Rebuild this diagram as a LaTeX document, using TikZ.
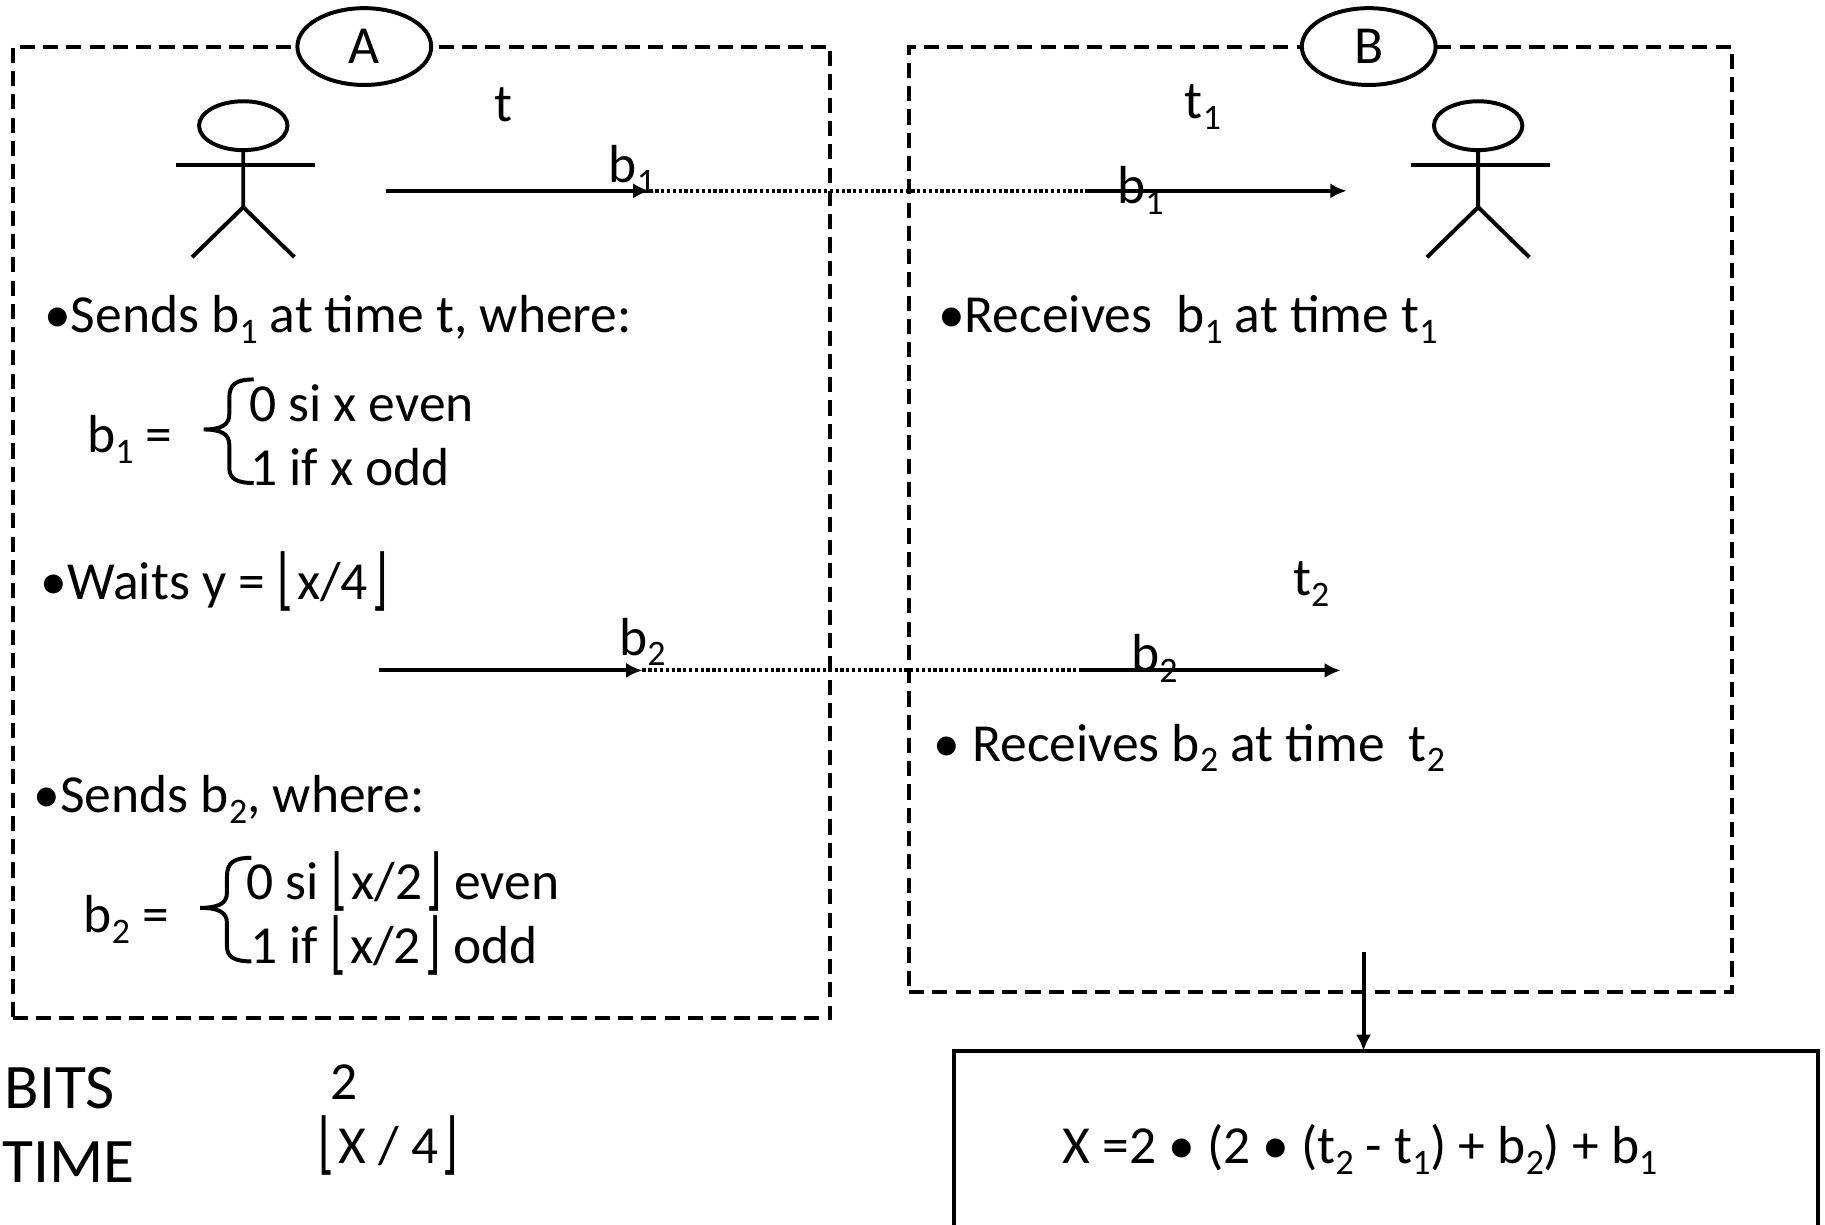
\documentclass[tikz,border=0pt]{standalone}
\usetikzlibrary{shapes.geometric,arrows.meta}
\usepackage{fontspec}
\setmainfont{Carlito}
\newfontfamily\symf{DejaVu Sans}
\newcommand\sbs[1]{\raisebox{-.2em}{\scalebox{.67}{#1}}}
\newcommand\lfl{{\raisebox{-.05em}{\scalebox{.8}[1.25]{\symf\char"230A}}\kern.06em}}
\newcommand\rfl{{\kern.06em\raisebox{-.05em}{\scalebox{.8}[1.25]{\symf\char"230B}}}}
\begin{document}
\begin{tikzpicture}[x=1pt,y=-1pt,
  txt/.style={anchor=base west,inner sep=0pt,outer sep=0pt,font=\fontsize{46}{52}\selectfont},
  big/.style={anchor=base west,inner sep=0pt,outer sep=0pt,font=\fontsize{54.5}{60}\selectfont},
  dashbox/.style={draw=black,line width=3.5pt,outer sep=0pt,dash pattern=on 13pt off 7pt},
  party/.style={draw=black,fill=white,line width=3.4pt,outer sep=0pt,ellipse,minimum width=115pt,minimum height=66pt,inner sep=0pt,font=\fontsize{46}{52}\selectfont},
  headshape/.style={draw=black,line width=3.4pt,outer sep=0pt,ellipse,minimum width=76pt,minimum height=42pt,inner sep=0pt},
  person/.style={line width=3.4pt},
  msg/.style={line width=3.4pt,-{Latex[length=14pt,width=13pt]}},
  wire/.style={line width=3.4pt,dash pattern=on 2.8pt off 2.2pt}
]
\useasboundingbox (0,0) rectangle (1568,1052.4);
\clip (0,0) rectangle (1568,1052.4);
% boxes
\node[dashbox,rectangle,minimum width=702pt,minimum height=835pt,anchor=north west,inner sep=0pt] (boxA) at (11,40) {};
\node[dashbox,rectangle,minimum width=707pt,minimum height=812pt,anchor=north west,inner sep=0pt] (boxB) at (781,40) {};
\node[party] (A) at (313,40) {\raisebox{-3pt}{A}};
\node[party] (B) at (1176,40) {\raisebox{-3pt}{B}};
% stick figures
\node[headshape] (headA) at (209,108) {};
\coordinate (hipA) at (209,178);
\draw[person] (headA.south) -- (hipA) -- (165,221);
\draw[person] (hipA) -- (253,221);
\draw[person] (151,142) -- (271,142);
\node[headshape] (headB) at (1270,108) {};
\coordinate (hipB) at (1270,178);
\draw[person] (headB.south) -- (hipB) -- (1226,221);
\draw[person] (hipB) -- (1314,221);
\draw[person] (1212,142) -- (1332,142);
% messages
\coordinate (a1s) at (332,164); \coordinate (a1e) at (558,164);
\coordinate (b1s) at (932,164); \coordinate (b1e) at (1157,164);
\coordinate (a2s) at (326,576); \coordinate (a2e) at (552,576);
\coordinate (b2s) at (927,576); \coordinate (b2e) at (1152,576);
\draw[wire] (a1e) -- (b1s);
\draw[wire] (a2e) -- (b2s);
\draw[msg] (a1s) -- (a1e);
\draw[msg] (b1s) -- (b1e);
\draw[msg] (a2s) -- (a2e);
\draw[msg] (b2s) -- (b2e);
% result
\node[draw=black,line width=3.5pt,outer sep=0pt,rectangle,minimum width=742pt,minimum height=200pt,anchor=north west,inner sep=0pt] (res) at (820,903) {};
\coordinate (outB) at (1171.5,818);
\draw[msg] (outB) -- (outB |- res.north);
% braces
\draw[line width=3.4pt] (218,326) .. controls (203,326) and (197,330) .. (197,342) -- (197,356) .. controls (197,365) and (190,369) .. (175,369) .. controls (190,369) and (197,373) .. (197,382) -- (197,402) .. controls (197,411) and (203,415) .. (218,415);
\draw[line width=3.4pt] (216,737) .. controls (201,737) and (195,741) .. (195,753) -- (195,767) .. controls (195,776) and (188,780) .. (172,780) .. controls (188,780) and (195,784) .. (195,793) -- (195,813) .. controls (195,822) and (201,826) .. (216,826);
% labels
\node[txt] (lt) at (425,104) {t};
\node[txt] (lb1a) at (523,157) {b\sbs{1}};
\node[txt] (lt1) at (1018,102) {t\sbs{1}};
\node[txt] (lb1b) at (960,175) {b\sbs{1}};
\node[txt] (s1) at (38,286) {•Sends b\sbs{1} at time t, where:};
\node[txt] (r1) at (806,286) {•Receives\ \ b\sbs{1} at time t\sbs{1}};
\node[txt] (eq1) at (75,389) {b\sbs{1} =};
\node[txt] (c1a) at (214,362) {0 si x even};
\node[txt] (c1b) at (215,417) {1 if x odd};
\node[txt] (w) at (35,515) {•Waits y = \lfl x/4\rfl};
\node[txt] (lt2) at (1111,512) {t\sbs{2}};
\node[txt] (lb2a) at (532,563) {b\sbs{2}};
\node[txt] (lb2b) at (972,577) {b\sbs{2}};
\node[txt] (r2) at (802,654) {• Receives b\sbs{2} at time\ \ t\sbs{2}};
\node[txt] (s2) at (29,698) {•Sends b\sbs{2}, where:};
\node[txt] (eq2) at (72,801) {b\sbs{2} =};
\node[txt] (c2a) at (212,773) {0 si \lfl x/2\rfl\ even};
\node[txt] (c2b) at (215,828) {1 if \lfl x/2\rfl\ odd};
\node[big] (bits) at (4,952) {BITS};
\node[big] (time) at (2,1016) {TIME};
\node[txt] (two) at (284,945) {2};
\node[txt] (tv) at (274,1000) {\lfl X / 4\rfl};
\node[txt] (fx) at (913,1000) {X =2 • (2 • (t\sbs{2} - t\sbs{1}) + b\sbs{2}) + b\sbs{1}};
\end{tikzpicture}
\end{document}
